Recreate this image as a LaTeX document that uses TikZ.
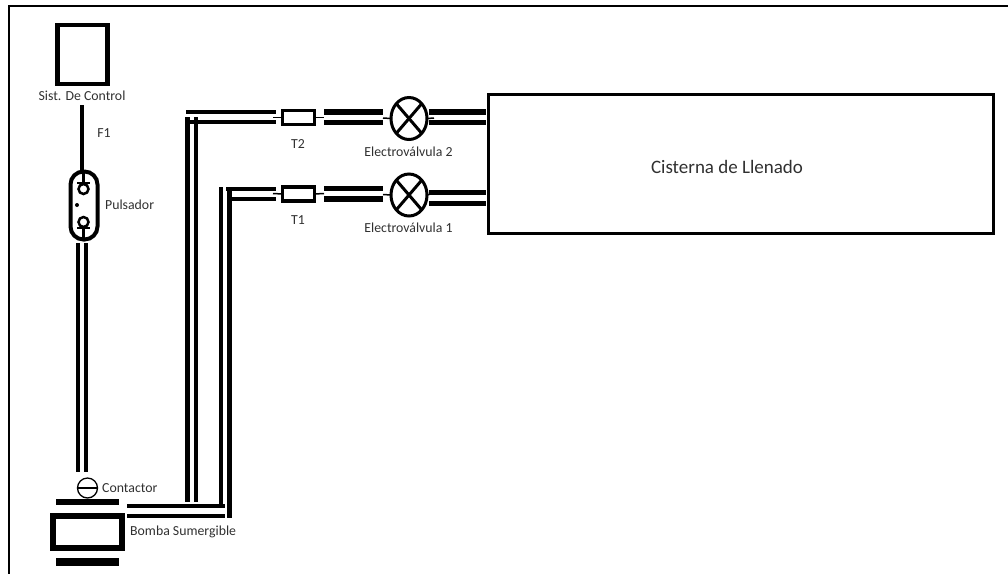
\documentclass[tikz,border=0pt]{standalone}
\usepackage{fontspec}
\setmainfont{Carlito}
\usetikzlibrary{shapes,positioning}
\definecolor{PipeBlack}{HTML}{000000}
\definecolor{LabelGray}{HTML}{303030}
\tikzset{
    % Base node style
    basenode/.style={
        draw=PipeBlack,
        fill=white,
        outer sep=0pt,
        inner sep=0pt
    },
    % Small labels
    tag/.style={
        text=LabelGray,
        inner sep=0pt,
        font=\fontsize{13.8}{15}\selectfont
    },
    % Control box
    controlbox/.style={
        basenode,
        line width=4.3pt,
        minimum width=50pt,
        minimum height=59pt
    },
    % Main tank
    tankbox/.style={
        basenode,
        line width=3pt,
        minimum width=505pt,
        minimum height=139pt
    },
    % Tank title
    tanktitle/.style={
        text=LabelGray,
        inner sep=0pt,
        font=\fontsize{19}{22}\selectfont
    },
    % Fuse box
    fusebox/.style={
        basenode,
        line width=3.5pt,
        minimum width=32pt,
        minimum height=14pt
    },
    % Solenoid valve
    valvenode/.style={
        basenode,
        ellipse,
        line width=3pt,
        minimum width=36pt,
        minimum height=42pt
    },
    % Push button
    buttonnode/.style={
        basenode,
        line width=4pt,
        rounded corners=13pt,
        minimum width=27pt,
        minimum height=68pt
    },
    % Small circle inside the button
    ringnode/.style={
        basenode,
        circle,
        line width=2.5pt,
        minimum size=10pt
    },
    % Contactor
    contactnode/.style={
        basenode,
        circle,
        line width=1.3pt,
        minimum size=20pt
    },
    % Pump
    pumpbox/.style={
        basenode,
        line width=6pt,
        minimum width=69pt,
        minimum height=32pt
    },
    % Bars next to the pump
    barnode/.style={
        draw=none,
        fill=PipeBlack,
        outer sep=0pt,
        inner sep=0pt,
        minimum width=63pt
    },
    % Pipe styles
    pipe/.style={line width=4.3pt, draw=PipeBlack},
    thickpipe/.style={line width=5.2pt, draw=PipeBlack},
    stub/.style={line width=1.5pt, draw=PipeBlack},
    wire/.style={line width=3.5pt, draw=PipeBlack},
    detail/.style={line width=2.5pt, draw=PipeBlack},
    framing/.style={line width=1.5pt, draw=PipeBlack}
}
\begin{document}
\begin{tikzpicture}[x=1pt, y=-1pt]
    \useasboundingbox (0,0) rectangle (1008,574);

    % Frame
    \coordinate (frameTL) at (9,6);
    \coordinate (frameTR) at (1008,6);
    \coordinate (frameBL) at (9,574);
    \draw[framing] (frameTR) -- (frameTL) -- (frameBL);

    % Control side
    \node[controlbox] (control) at (82.5,54.5) {};
    \node[tag] (controllabel) at (82,96) {Sist. De Control};
    \node[tag] (f1label) at (104,133) {F1};
    \node[buttonnode] (button) at (84,205.5) {};
    \node[tag, anchor=west] (buttonlabel) at (105,205) {Pulsador};
    \node[ringnode] (ringtop) at (83.5,189) {};
    \node[ringnode] (ringbot) at (83.5,222) {};
    \node[circle, fill=PipeBlack, inner sep=0pt, minimum size=4pt] (buttondot) at (77,205) {};
    \node[contactnode] (contact) at (87.5,488) {};
    \node[tag, anchor=west] (contactlabel) at (102,488) {Contactor};
    \node[barnode, minimum height=6pt] (bartop) at (87.5,502) {};
    \node[pumpbox] (pump) at (87.5,532) {};
    \node[barnode, minimum height=8pt] (barbot) at (87.5,562) {};
    \node[tag, anchor=west] (pumplabel) at (130,532) {Bomba Sumergible};

    % Valve lines
    \node[fusebox] (t2) at (298.5,117.5) {};
    \node[fusebox] (t1) at (298.5,194) {};
    \node[tag] (t2label) at (298,144) {T2};
    \node[tag] (t1label) at (298,220) {T1};
    \node[valvenode] (valve2) at (409,118.5) {};
    \node[valvenode] (valve1) at (409,195) {};
    \node[tag] (valve2label) at (408.5,152) {Electroválvula 2};
    \node[tag] (valve1label) at (408.5,228) {Electroválvula 1};
    \node[tankbox] (tank) at (740.5,163.5) {};
    \node[tanktitle] (tanklabel) at (727,167) {Cisterna de Llenado};

    \coordinate (f1top) at (82,105);
    \coordinate (f1bot) at (82,171);
    \draw[wire] (f1top) -- (f1bot);

    % Button details
    \coordinate (bartopL) at (77,183);
    \coordinate (bartopR) at (90,183);
    \coordinate (barbotL) at (77,228);
    \coordinate (barbotR) at (90,228);
    \coordinate (stemtop) at (83.5,170);
    \coordinate (stemtopb) at (83.5,183);
    \coordinate (stembot) at (83.5,241);
    \coordinate (stembotb) at (83.5,228);
    \draw[detail] (bartopL) -- (bartopR);
    \draw[detail] (barbotL) -- (barbotR);
    \draw[detail] (stemtop) -- (stemtopb);
    \draw[detail] (stembot) -- (stembotb);

    % Button to contactor
    \coordinate (leadAt) at (78,243);
    \coordinate (leadAb) at (78,472);
    \coordinate (leadBt) at (86,243);
    \coordinate (leadBb) at (86,472);
    \draw[pipe] (leadAt) -- (leadAb);
    \draw[pipe] (leadBt) -- (leadBb);

    % Contactor bar
    \draw[stub, line width=1.2pt] (contact.west) -- (contact.east);

    % Valve crosses
    \draw[line width=3pt] (valve2.north west) -- (valve2.south east);
    \draw[line width=3pt] (valve2.north east) -- (valve2.south west);
    \draw[line width=3pt] (valve1.north west) -- (valve1.south east);
    \draw[line width=3pt] (valve1.north east) -- (valve1.south west);

    % Pump to T2
    \coordinate (p2a) at (127,506);
    \coordinate (p2b) at (225,506);
    \coordinate (p1a) at (127,516);
    \coordinate (p1b) at (225,516);
    \draw[pipe] (p2a) -- (p2b);
    \draw[pipe] (p1a) -- (p1b);

    \coordinate (r2a) at (187.5,117);
    \coordinate (r2b) at (187.5,502);
    \coordinate (r2c) at (196,117);
    \coordinate (r2d) at (196,502);
    \draw[pipe] (r2a) -- (r2b);
    \draw[pipe] (r2c) -- (r2d);
    \coordinate (h2a) at (186,112);
    \coordinate (h2b) at (276,112);
    \coordinate (h2c) at (186,122);
    \coordinate (h2d) at (276,122);
    \draw[pipe] (h2a) -- (h2b);
    \draw[pipe] (h2c) -- (h2d);

    % Pump to T1
    \coordinate (r1a) at (221,187);
    \coordinate (r1b) at (221,506);
    \coordinate (r1c) at (229.5,190);
    \coordinate (r1d) at (229.5,518);
    \draw[pipe] (r1a) -- (r1b);
    \draw[pipe] (r1c) -- (r1d);
    \coordinate (h1a) at (226,189);
    \coordinate (h1b) at (276,189);
    \coordinate (h1c) at (228,199);
    \coordinate (h1d) at (276,199);
    \draw[pipe] (h1a) -- (h1b);
    \draw[pipe] (h1c) -- (h1d);

    % Stubs at the fuses
    \coordinate (s2a) at (273,117.5);
    \coordinate (s2b) at (324,117.5);
    \coordinate (s1a) at (273,193.5);
    \coordinate (s1b) at (324,193.5);
    \draw[stub] (s2a) -- (t2.west);
    \draw[stub] (t2.east) -- (s2b);
    \draw[stub] (s1a) -- (t1.west);
    \draw[stub] (t1.east) -- (s1b);

    % Fuse to valve
    \coordinate (m2a) at (324,112);
    \coordinate (m2b) at (383,112);
    \coordinate (m2c) at (324,122.5);
    \coordinate (m2d) at (383,122.5);
    \draw[thickpipe] (m2a) -- (m2b);
    \draw[thickpipe] (m2c) -- (m2d);
    \coordinate (m1a) at (324,188.5);
    \coordinate (m1b) at (383,188.5);
    \coordinate (m1c) at (324,199);
    \coordinate (m1d) at (383,199);
    \draw[thickpipe] (m1a) -- (m1b);
    \draw[thickpipe] (m1c) -- (m1d);
    \coordinate (v2in) at (383,118);
    \coordinate (v1in) at (383,194.5);
    \draw[stub] (v2in) -- (valve2.west);
    \draw[stub] (v1in) -- (valve1.west);

    % Valve to tank
    \coordinate (o2a) at (429,112);
    \coordinate (o2b) at (486,112);
    \coordinate (o2c) at (429,122.5);
    \coordinate (o2d) at (486,122.5);
    \draw[thickpipe] (o2a) -- (o2b);
    \draw[thickpipe] (o2c) -- (o2d);
    \coordinate (o1a) at (429,192.5);
    \coordinate (o1b) at (486,192.5);
    \coordinate (o1c) at (429,203.5);
    \coordinate (o1d) at (486,203.5);
    \draw[thickpipe] (o1a) -- (o1b);
    \draw[thickpipe] (o1c) -- (o1d);
    \coordinate (v2out) at (434,118);
    \coordinate (v1out) at (434,193);
    \draw[stub] (valve2.east) -- (v2out);
    \draw[stub] (valve1.east) -- (v1out);
\end{tikzpicture}
\end{document}
